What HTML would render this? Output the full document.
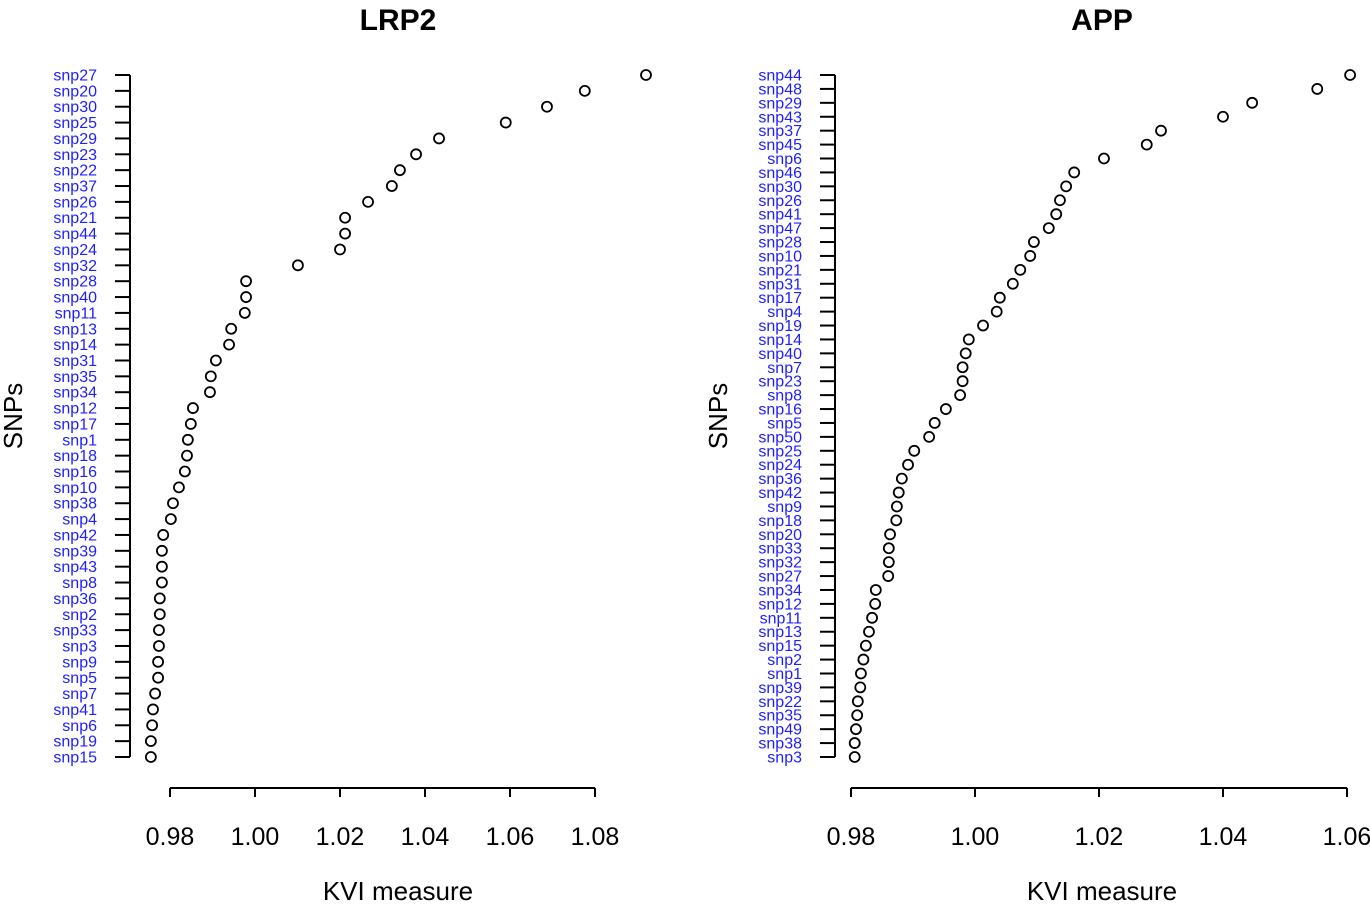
<!DOCTYPE html>
<html><head><meta charset="utf-8"><style>
body{margin:0;background:#fff}
svg text{font-family:"Liberation Sans",Arial,sans-serif}
</style></head><body>
<svg id="c" width="1370" height="904" xmlns="http://www.w3.org/2000/svg"></svg>
<script>
const leftSnps=["snp27","snp20","snp30","snp25","snp29","snp23","snp22","snp37","snp26","snp21","snp44","snp24","snp32","snp28","snp40","snp11","snp13","snp14","snp31","snp35","snp34","snp12","snp17","snp1","snp18","snp16","snp10","snp38","snp4","snp42","snp39","snp43","snp8","snp36","snp2","snp33","snp3","snp9","snp5","snp7","snp41","snp6","snp19","snp15"];
const leftVals=[1.092,1.0776,1.0687,1.059,1.0433,1.0379,1.0341,1.0322,1.0266,1.0212,1.0212,1.02,1.0101,0.9979,0.9979,0.9976,0.9944,0.9939,0.9908,0.9896,0.9894,0.9854,0.9849,0.9842,0.984,0.9835,0.9821,0.9807,0.9802,0.9784,0.9781,0.9781,0.9781,0.9776,0.9776,0.9774,0.9774,0.9772,0.9772,0.9765,0.976,0.9758,0.9755,0.9755];
const leftTicks=[0.98,1.00,1.02,1.04,1.06,1.08];
const rightSnps=["snp44","snp48","snp29","snp43","snp37","snp45","snp6","snp46","snp30","snp26","snp41","snp47","snp28","snp10","snp21","snp31","snp17","snp4","snp19","snp14","snp40","snp7","snp23","snp8","snp16","snp5","snp50","snp25","snp24","snp36","snp42","snp9","snp18","snp20","snp33","snp32","snp27","snp34","snp12","snp11","snp13","snp15","snp2","snp1","snp39","snp22","snp35","snp49","snp38","snp3"];
const rightVals=[1.0605,1.0552,1.0447,1.04,1.03,1.0277,1.0208,1.016,1.0147,1.0137,1.0131,1.0119,1.0095,1.0089,1.0073,1.0061,1.004,1.0035,1.0013,0.999,0.9985,0.998,0.998,0.9976,0.9953,0.9935,0.9926,0.9902,0.9892,0.9882,0.9877,0.9874,0.9873,0.9863,0.9861,0.9861,0.986,0.984,0.9839,0.9834,0.9829,0.9824,0.982,0.9816,0.9815,0.9811,0.981,0.9808,0.9806,0.9806];
const rightTicks=[0.98,1.00,1.02,1.04,1.06];
const svg=document.getElementById('c');
const NS="http://www.w3.org/2000/svg";
function mk(tag,attrs,txt){const e=document.createElementNS(NS,tag);for(const k in attrs)e.setAttribute(k,attrs[k]);if(txt!==undefined)e.textContent=txt;svg.appendChild(e);return e;}
function panel(p){
  const xs=v=>p.x0+(v-p.v0)*p.k;
  const ys=i=>75+i*(682/(p.snps.length-1));
  let t=mk('text',{x:p.tx,y:30,'text-anchor':'middle','font-size':30,'font-weight':'bold'},p.title);
  
  let ya=mk('line',{x1:p.yax,x2:p.yax,y1:75,y2:757,stroke:'#000','stroke-width':2});
  
  p.snps.forEach((s,i)=>{
    const y=ys(i);
    mk('line',{x1:p.yax-15,x2:p.yax,y1:y,y2:y,stroke:'#000','stroke-width':2});
    const l=mk('text',{x:p.yax-33,y:y+5.5,'text-anchor':'end','font-size':16,fill:'#2020ff'},s);
    
    const c=mk('circle',{cx:xs(p.vals[i]),cy:y,r:5,fill:'none',stroke:'#000','stroke-width':1.8});
    
  });
  const xa=mk('line',{x1:xs(p.ticks[0]),x2:xs(p.ticks[p.ticks.length-1]),y1:788,y2:788,stroke:'#000','stroke-width':2});
  
  p.ticks.forEach(v=>{
    mk('line',{x1:xs(v),x2:xs(v),y1:788,y2:797,stroke:'#000','stroke-width':2});
    const l=mk('text',{x:xs(v),y:845,'text-anchor':'middle','font-size':25},v.toFixed(2));
    
  });
  const xl=mk('text',{x:p.tx,y:900,'text-anchor':'middle','font-size':26},'KVI measure');
  
  const yl=mk('text',{x:p.ylx,y:416,'text-anchor':'middle','font-size':26,transform:`rotate(-90 ${p.ylx} 416)`},'SNPs');
  
}
panel({id:'lrp2',title:'LRP2',snps:leftSnps,vals:leftVals,ticks:leftTicks,x0:170,v0:0.98,k:4250,yax:130,tx:398,ylx:22});
panel({id:'app',title:'APP',snps:rightSnps,vals:rightVals,ticks:rightTicks,x0:851,v0:0.98,k:6200,yax:835,tx:1102,ylx:727});
</script>
</body></html>
